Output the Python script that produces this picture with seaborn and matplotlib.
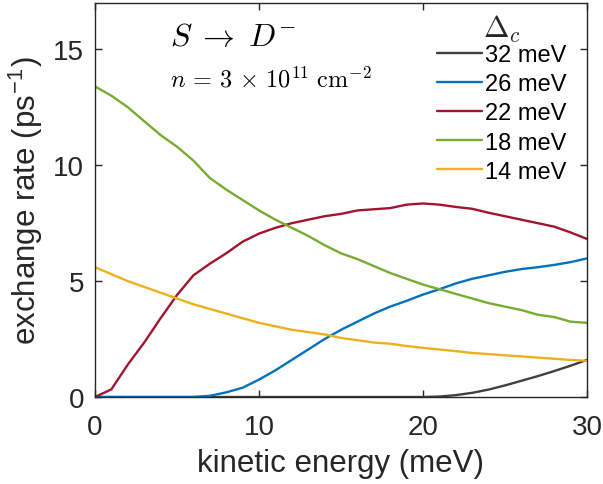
import numpy as np
import pandas as pd
import matplotlib
matplotlib.use("Agg")
import matplotlib.pyplot as plt
import seaborn as sns

energy = list(range(0, 31))
rate_32 = [0]*21 + [0.02, 0.08, 0.18, 0.32, 0.5, 0.7, 0.9, 1.12, 1.35, 1.6]
rate_26 = [0, 0, 0, 0, 0, 0, 0, 0.05, 0.2, 0.4, 0.75, 1.15, 1.6, 2.05, 2.5, 2.9,
           3.25, 3.6, 3.9, 4.15, 4.42, 4.65, 4.9, 5.1, 5.25, 5.4, 5.52, 5.6, 5.7, 5.82, 5.98]
rate_22 = [0, 0.33, 1.4, 2.35, 3.4, 4.4, 5.25, 5.75, 6.2, 6.7, 7.05, 7.3, 7.5, 7.65, 7.8, 7.9,
           8.05, 8.1, 8.15, 8.3, 8.35, 8.3, 8.2, 8.12, 7.95, 7.8, 7.65, 7.5, 7.35, 7.1, 6.82]
rate_18 = [13.4, 13.0, 12.5, 11.9, 11.3, 10.8, 10.2, 9.45, 8.95, 8.5, 8.05, 7.65, 7.3, 6.95,
           6.55, 6.2, 5.95, 5.65, 5.35, 5.1, 4.85, 4.65, 4.45, 4.25, 4.05, 3.9, 3.75, 3.55, 3.45, 3.25, 3.2]
rate_14 = [5.6, 5.3, 5.0, 4.75, 4.5, 4.25, 4.0, 3.8, 3.6, 3.4, 3.2, 3.05, 2.9, 2.8, 2.7, 2.55,
           2.45, 2.35, 2.3, 2.2, 2.12, 2.05, 1.98, 1.9, 1.85, 1.8, 1.75, 1.7, 1.65, 1.6, 1.56]
series_labels = ["32 meV", "26 meV", "22 meV", "18 meV", "14 meV"]
series_values = [rate_32, rate_26, rate_22, rate_18, rate_14]
colors = ["#404040", "#0072BD", "#A2142F", "#77AC30", "#EDB120"]

rows = []
for lab, vals in zip(series_labels, series_values):
    for e, v in zip(energy, vals):
        rows.append({"energy": e, "rate": v, "delta": lab})
df = pd.DataFrame(rows)

sns.set_style("ticks")
plt.rcParams["font.family"] = ["Liberation Sans", "DejaVu Sans"]
plt.rcParams["mathtext.fontset"] = "cm"

fig = plt.figure(figsize=(6.03, 4.85), dpi=100)
ax = fig.add_axes([95/603, 1 - 398/485, (587-95)/603, (398-4)/485])

sns.lineplot(data=df, x="energy", y="rate", hue="delta", hue_order=series_labels,
             palette=colors, linewidth=1.7, ax=ax, legend=True)

ax.set_xlim(0, 30)
ax.set_ylim(0, 17)
ax.set_xticks([0, 10, 20, 30])
ax.set_yticks([0, 5, 10, 15])
ax.tick_params(direction="in", length=5, width=1, top=True, right=True,
               labelsize=20, colors="#262626")
ax.tick_params(axis="x", pad=12)
ax.tick_params(axis="y", pad=8)
for s in ax.spines.values():
    s.set_color("#262626")
    s.set_linewidth(1)
ax.set_xlabel("kinetic energy (meV)", fontsize=22.5, color="#262626", labelpad=6)
ax.set_ylabel("exchange rate (ps$^{\\mathregular{-1}}$)", fontsize=22.5, color="#262626", labelpad=6)

ax.text(0.152, 0.914, r"$S\;\rightarrow\;D^{-}$", transform=ax.transAxes, fontsize=23,
        color="black", va="center")
ax.text(0.152, 0.807, r"$n\,=\,3\,\times\,10^{11}\ \mathrm{cm}^{-2}$", transform=ax.transAxes,
        fontsize=17.5, color="black", va="center")

handles, labels = ax.get_legend_handles_labels()
leg = ax.legend(handles, labels, title=r"$\Delta_c$", loc="upper right", frameon=False,
                fontsize=17, title_fontsize=22, handlelength=1.9, handletextpad=0.15,
                labelspacing=0.3, borderaxespad=0.45,
                bbox_to_anchor=(1.0, 1.0 + 10/394))
leg._legend_box.sep = 0
for t in leg.get_texts():
    t.set_color("black")

fig.savefig("out.png", dpi=100)
